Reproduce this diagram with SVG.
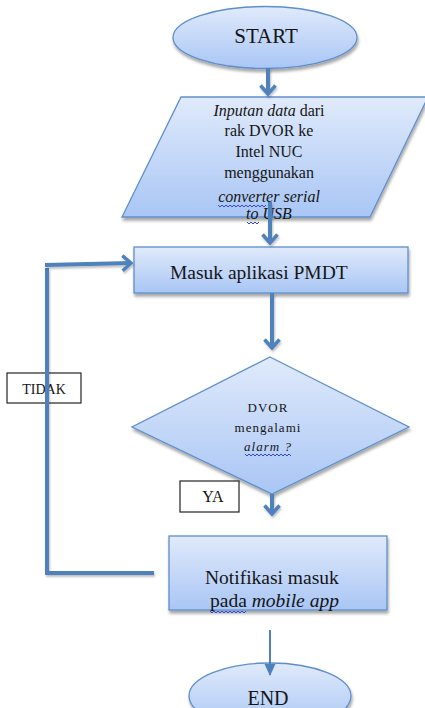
<svg xmlns="http://www.w3.org/2000/svg" width="425" height="708" viewBox="0 0 425 708">
<style>
.shape{fill:url(#g);stroke:#5f8fcb;stroke-width:1.3;filter:url(#sh)}
.t{font-family:"Liberation Serif","Times New Roman",serif;fill:#151515}
.conn{stroke:#4f81bd;stroke-width:4;fill:none;filter:url(#lsh)}
.lbl{fill:#fff;stroke:#222;stroke-width:1.2}
.sq{fill:none;stroke:#3344dd;stroke-width:1}
</style>
<defs>
<linearGradient id="g" x1="0" y1="0" x2="0" y2="1">
<stop offset="0" stop-color="#e0eafb"/>
<stop offset="1" stop-color="#a9c6f5"/>
</linearGradient>
<filter id="sh" x="-10%" y="-10%" width="120%" height="130%">
<feDropShadow dx="1" dy="3" stdDeviation="1.8" flood-color="#000" flood-opacity="0.35"/>
</filter>
<filter id="lsh" filterUnits="userSpaceOnUse" x="0" y="0" width="425" height="708">
<feDropShadow dx="1" dy="2" stdDeviation="1.2" flood-color="#000" flood-opacity="0.25"/>
</filter>
<marker id="chev" viewBox="0 0 12 18" refX="10" refY="9" markerWidth="12" markerHeight="18" markerUnits="userSpaceOnUse" orient="auto">
<path d="M1.5,1.5 L10,9 L1.5,16.5" fill="none" stroke="#4f81bd" stroke-width="3.5"/>
</marker>
<marker id="tri" viewBox="0 0 12 12" refX="11" refY="6" markerWidth="12" markerHeight="12" markerUnits="userSpaceOnUse" orient="auto">
<path d="M0,0.5 L12,6 L0,11.5 Z" fill="#4f81bd"/>
</marker>
</defs>

<g id="start">
<ellipse class="shape" cx="265" cy="37.5" rx="92" ry="31"/>
<text class="t" x="266" y="43" font-size="21" text-anchor="middle">START</text>
</g>

<g id="input">
<polygon class="shape" points="181,97 428,97 370,217 122,217"/>
<g class="t" font-size="16" text-anchor="middle">
<text x="269" y="116"><tspan font-style="italic">Inputan data</tspan> dari</text>
<text x="269" y="136">rak DVOR ke</text>
<text x="269" y="157">Intel NUC</text>
<text x="269" y="178">menggunakan</text>
<text x="269" y="202" font-style="italic">converter serial</text>
<text x="269" y="219" font-style="italic">to USB</text>
</g>
<polyline class="sq" points="218,205 220,207 222,205 224,207 226,205 228,207 230,205 232,207 234,205 236,207 238,205 240,207 242,205 244,207 246,205 248,207 250,205 252,207 254,205 256,207 258,205 260,207 262,205 264,207 266,205"/>
<polyline class="sq" points="247,222 249,224 251,222 253,224 255,222 257,224 259,222"/>
</g>

<g id="masuk">
<rect class="shape" x="134" y="247" width="274" height="46"/>
<text class="t" x="170" y="279" font-size="19.5">Masuk aplikasi PMDT</text>
</g>

<g id="decision">
<polygon class="shape" points="270,357 409,427 272,494 132,427"/>
<g class="t" font-size="13" text-anchor="middle" letter-spacing="1">
<text x="268" y="412">DVOR</text>
<text x="268" y="432">mengalami</text>
<text x="268" y="451" font-style="italic">alarm ?</text>
</g>
<polyline class="sq" points="245,454 247,456 249,454 251,456 253,454 255,456 257,454 259,456 261,454 263,456 265,454 267,456 269,454 271,456 273,454 275,456 277,454 279,456 281,454 283,456 285,454 287,456 289,454 291,456"/>
</g>

<g id="label-tidak">
<rect class="lbl" x="7" y="373" width="74" height="30"/>
<text class="t" x="44" y="394" font-size="14" text-anchor="middle">TIDAK</text>
</g>

<g id="label-ya">
<rect class="lbl" x="180" y="481" width="59" height="31"/>
<text class="t" x="213" y="502" font-size="16" text-anchor="middle">YA</text>
</g>

<g id="notifikasi">
<rect class="shape" x="169" y="536" width="218" height="74"/>
<text class="t" x="205" y="584" font-size="19.5">Notifikasi masuk</text>
<text class="t" x="210" y="607" font-size="19.5">pada <tspan font-style="italic">mobile app</tspan></text>
<polyline class="sq" points="210,611 212,613 214,611 216,613 218,611 220,613 222,611 224,613 226,611 228,613 230,611 232,613 234,611 236,613 238,611 240,613 242,611 244,613 246,611"/>
</g>

<g id="end">
<ellipse class="shape" cx="270" cy="696" rx="81" ry="33"/>
<text class="t" x="268" y="705" font-size="20" text-anchor="middle">END</text>
</g>

<g id="connectors">
<line class="conn" x1="268" y1="68" x2="268" y2="94" marker-end="url(#chev)"/>
<line class="conn" x1="270" y1="202" x2="270" y2="243" marker-end="url(#chev)"/>
<line class="conn" x1="272" y1="293" x2="272" y2="348" marker-end="url(#chev)"/>
<line class="conn" x1="272" y1="494" x2="272" y2="514" marker-end="url(#chev)"/>
<polyline class="conn" points="47,268 47,573 154,573"/>
<line class="conn" x1="45" y1="265" x2="131" y2="263" marker-end="url(#chev)"/>
<line x1="270" y1="630" x2="270" y2="675" stroke="#4f81bd" stroke-width="2" marker-end="url(#tri)"/>
</g>
</svg>
